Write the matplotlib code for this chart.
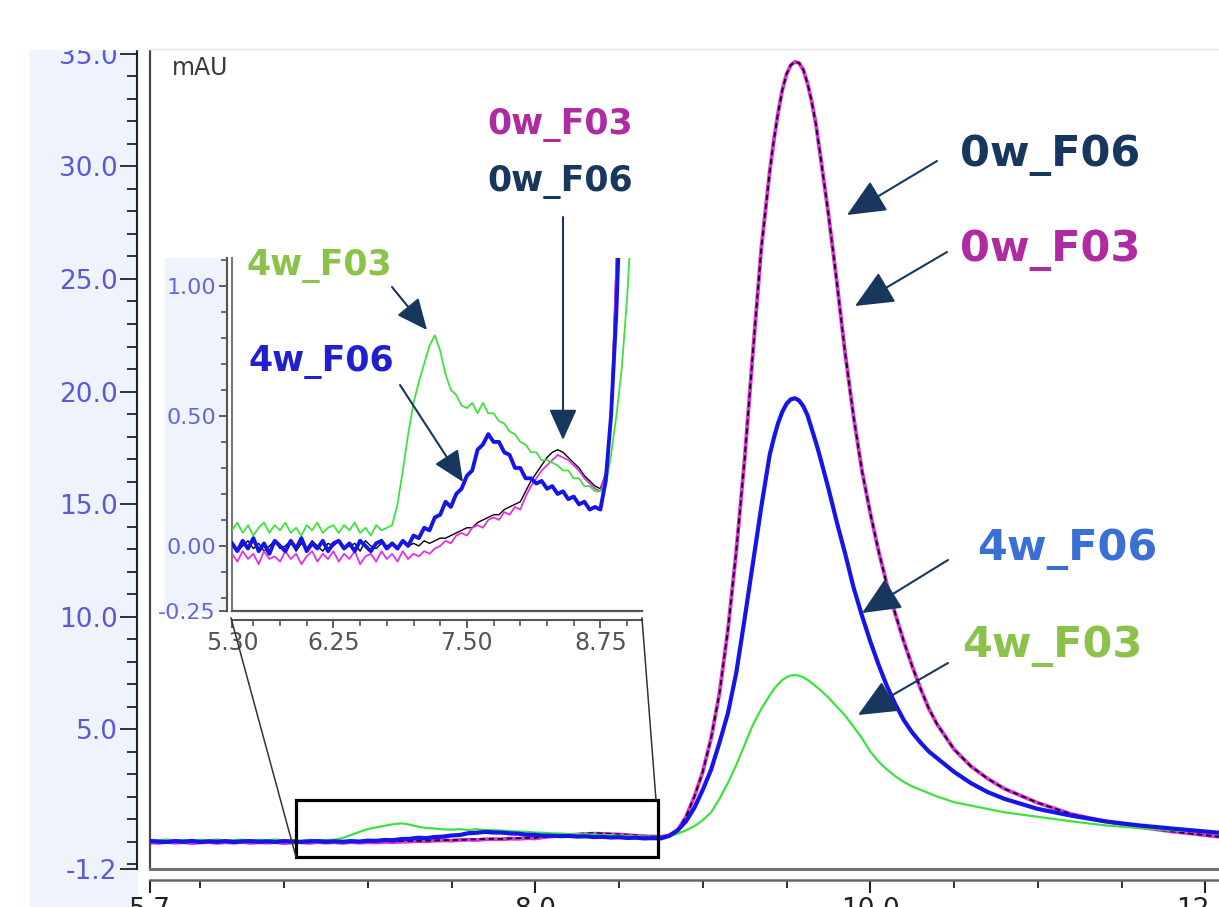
import matplotlib
matplotlib.use("Agg")
import matplotlib.pyplot as plt
from matplotlib.patches import Rectangle, FancyArrowPatch
from matplotlib.lines import Line2D
from matplotlib.ticker import MultipleLocator, FixedLocator

W, H = 1219, 907

# retention time (min), baseline region and main peak region
time_low = [5.30, 5.35, 5.40, 5.45, 5.50, 5.55, 5.60, 5.65, 5.70, 5.75,
            5.80, 5.85, 5.90, 5.95, 6.00, 6.05, 6.10, 6.15, 6.20, 6.25,
            6.30, 6.35, 6.40, 6.45, 6.50, 6.55, 6.60, 6.65, 6.70, 6.75,
            6.80, 6.85, 6.90, 6.95, 7.00, 7.05, 7.10, 7.15, 7.20, 7.25,
            7.30, 7.35, 7.40, 7.45, 7.50, 7.55, 7.60, 7.65, 7.70, 7.75,
            7.80, 7.85, 7.90, 7.95, 8.00, 8.05, 8.10, 8.15, 8.20, 8.25,
            8.30, 8.35, 8.40, 8.45, 8.50, 8.55, 8.60, 8.65, 8.70, 8.75,
            8.80]
time_peak = [8.85, 8.90, 8.95, 9.00, 9.05, 9.10, 9.15, 9.20, 9.25, 9.30,
             9.35, 9.40, 9.425, 9.45, 9.475, 9.50, 9.525, 9.55, 9.575, 9.60,
             9.625, 9.65, 9.675, 9.70, 9.75, 9.80, 9.85, 9.90, 9.95, 10.00,
             10.05, 10.10, 10.15, 10.20, 10.25, 10.30, 10.35, 10.40, 10.50, 10.60,
             10.70, 10.80, 11.00, 11.20, 11.40, 11.60, 11.80, 12.10]

# absorbance, mAU
w0_f03_low = [-0.03, -0.06, -0.02, -0.05, -0.03, -0.07, -0.02, -0.05, -0.04, -0.06,
              -0.02, -0.05, -0.03, -0.07, -0.04, -0.02, -0.06, -0.03, -0.05, -0.02,
              -0.06, -0.03, -0.05, -0.02, -0.07, -0.04, -0.03, -0.06, -0.02, -0.05,
              -0.03, -0.06, -0.02, -0.05, -0.03, -0.04, -0.02, -0.03, -0.01, 0.00,
              0.02, 0.01, 0.04, 0.05, 0.04, 0.07, 0.08, 0.07, 0.10, 0.11,
              0.10, 0.13, 0.12, 0.15, 0.14, 0.19, 0.23, 0.26, 0.29, 0.31,
              0.33, 0.35, 0.34, 0.33, 0.31, 0.29, 0.26, 0.24, 0.22, 0.21,
              0.28]
w0_f06_low = [0.01, -0.02, 0.00, 0.02, -0.01, 0.01, -0.02, 0.00, 0.02, -0.01,
              0.00, 0.02, -0.02, 0.01, -0.01, 0.02, 0.00, -0.02, 0.01, 0.00,
              0.02, -0.01, 0.00, 0.01, -0.02, 0.02, 0.00, -0.01, 0.01, 0.00,
              0.01, -0.01, 0.02, 0.00, 0.01, 0.00, 0.02, 0.01, 0.02, 0.03,
              0.03, 0.04, 0.05, 0.06, 0.07, 0.07, 0.09, 0.10, 0.11, 0.12,
              0.12, 0.14, 0.15, 0.16, 0.17, 0.21, 0.25, 0.28, 0.31, 0.34,
              0.36, 0.37, 0.36, 0.34, 0.32, 0.30, 0.27, 0.25, 0.23, 0.22,
              0.28]
w0_peak = [0.50, 1.10, 2.00, 3.10, 4.60, 6.60, 9.40, 12.90, 17.00, 21.80,
           26.40, 29.80, 31.20, 32.40, 33.40, 34.10, 34.50, 34.65, 34.60, 34.30,
           33.70, 32.90, 31.90, 30.60, 27.90, 24.90, 21.70, 18.90, 16.50, 14.60,
           12.90, 11.40, 10.10, 8.90, 7.80, 6.80, 5.90, 5.20, 4.10, 3.35,
           2.80, 2.35, 1.72, 1.22, 0.90, 0.65, 0.45, 0.20]

w4_f03_low = [0.06, 0.09, 0.05, 0.08, 0.04, 0.07, 0.09, 0.05, 0.08, 0.06,
              0.09, 0.05, 0.07, 0.04, 0.08, 0.06, 0.09, 0.05, 0.07, 0.08,
              0.05, 0.08, 0.06, 0.09, 0.05, 0.07, 0.04, 0.08, 0.06, 0.07,
              0.08, 0.16, 0.29, 0.43, 0.55, 0.63, 0.70, 0.77, 0.81, 0.75,
              0.66, 0.60, 0.58, 0.54, 0.53, 0.55, 0.51, 0.55, 0.51, 0.51,
              0.48, 0.47, 0.44, 0.43, 0.40, 0.39, 0.36, 0.36, 0.33, 0.33,
              0.32, 0.31, 0.29, 0.29, 0.26, 0.26, 0.23, 0.23, 0.21, 0.21,
              0.23]
w4_f03_peak = [0.35, 0.50, 0.68, 0.95, 1.30, 1.90, 2.60, 3.40, 4.30, 5.20,
               5.90, 6.50, 6.78, 7.00, 7.18, 7.30, 7.38, 7.40, 7.37, 7.30,
               7.19, 7.05, 6.90, 6.75, 6.40, 6.00, 5.60, 5.10, 4.60, 4.00,
               3.55, 3.20, 2.90, 2.65, 2.45, 2.30, 2.15, 2.00, 1.75, 1.60,
               1.45, 1.30, 1.10, 0.90, 0.72, 0.60, 0.50, 0.38]

w4_f06_low = [0.01, -0.02, 0.02, -0.01, 0.03, -0.02, 0.01, -0.03, 0.02, 0.00,
              -0.02, 0.02, -0.01, 0.03, -0.02, 0.01, -0.01, 0.02, -0.02, 0.01,
              0.02, -0.01, 0.01, -0.02, 0.02, 0.00, -0.02, 0.01, 0.02, -0.01,
              0.01, -0.01, 0.02, 0.00, 0.04, 0.03, 0.07, 0.06, 0.11, 0.12,
              0.17, 0.15, 0.20, 0.22, 0.27, 0.29, 0.37, 0.39, 0.43, 0.40,
              0.40, 0.36, 0.35, 0.30, 0.30, 0.26, 0.26, 0.24, 0.25, 0.22,
              0.23, 0.20, 0.21, 0.18, 0.19, 0.16, 0.17, 0.14, 0.15, 0.14,
              0.25]
w4_f06_peak = [0.50, 0.90, 1.50, 2.30, 3.20, 4.40, 5.70, 7.50, 9.90, 12.40,
               14.90, 17.20, 17.95, 18.60, 19.10, 19.45, 19.65, 19.70, 19.60, 19.35,
               18.95, 18.35, 17.75, 17.10, 15.70, 14.20, 12.80, 11.30, 10.05, 8.90,
               7.85, 6.90, 6.10, 5.40, 4.85, 4.40, 4.00, 3.70, 3.10, 2.60,
               2.20, 1.90, 1.45, 1.15, 0.90, 0.72, 0.58, 0.38]

rt = time_low + time_peak
w0_f03 = w0_f03_low + w0_peak
w0_f06 = w0_f06_low + w0_peak
w4_f03 = w4_f03_low + w4_f03_peak
w4_f06 = w4_f06_low + w4_f06_peak

# zoomed window drawn on the main trace (min, mAU)
box_t = (6.57, 8.73)
box_y = (-0.70, 1.85)

MAG = "#e033e0"
BLUE = "#1515e8"
GREEN = "#3ee23e"
NAVY = "#17375e"
TXT_MAG = "#b02aa0"
TXT_GREEN = "#8bc34a"
TICK_BLUE = "#5a5ad8"
NARROW = ["Liberation Sans Narrow", "DejaVu Sans"]
BOLD = ["DejaVu Sans"]


def fx(x):
    return x / W


def fy(y):
    return 1 - y / H


fig = plt.figure(figsize=(W / 100, H / 100), dpi=100, facecolor="white")

# light blue strip behind the y scale
fig.patches.append(Rectangle((fx(30), fy(907)), fx(107), 860 / H,
                             transform=fig.transFigure, color="#eef3fc", zorder=-1))

# ---- main chromatogram ----
ax = fig.add_axes([fx(150), fy(869), 1069 / W, 822 / H])
ax.plot(rt, w0_f03, color=MAG, lw=2.8, zorder=2)
ax.plot(rt, w0_f06, color="black", lw=1.3, ls=(0, (3, 2)), zorder=3)
ax.plot(rt, w4_f03, color=GREEN, lw=1.6, zorder=3.5)
ax.plot(rt, w4_f06, color=BLUE, lw=3.0, zorder=4)
ax.add_patch(Rectangle((box_t[0], box_y[0]), box_t[1] - box_t[0], box_y[1] - box_y[0],
                       fill=False, ec="black", lw=2.3, zorder=6))

ax.set_xlim(5.7, 12.082)
ax.set_ylim(-1.22, 35.31)
ax.spines["right"].set_visible(False)
ax.spines["top"].set_visible(False)
ax.spines["left"].set_position(("outward", 9.4))
ax.spines["bottom"].set_position(("outward", 8))
ax.spines["left"].set_color("#222222")
ax.spines["bottom"].set_color("#666666")
ax.spines["left"].set_linewidth(1.5)
ax.spines["bottom"].set_linewidth(1.8)
ax.add_line(Line2D([0, 0], [0, 1], transform=ax.transAxes, color="#4a4a4a",
                   lw=1.6, clip_on=False))
ax.add_line(Line2D([0, 1], [0, 0], transform=ax.transAxes, color="#707070",
                   lw=2.2, clip_on=False))

ax.yaxis.set_major_locator(FixedLocator([-1.2, 5, 10, 15, 20, 25, 30, 35]))
ax.yaxis.set_minor_locator(MultipleLocator(1.0))
ax.set_yticklabels(["-1.2", "5.0", "10.0", "15.0", "20.0", "25.0", "30.0", "35.0"])
ax.xaxis.set_major_locator(FixedLocator([5.7, 8.0, 10.0, 12.0]))
ax.xaxis.set_minor_locator(MultipleLocator(0.5))
ax.set_xticklabels(["5.7", "8.0", "10.0", "12.0"])
ax.tick_params(axis="y", which="major", length=12, width=1.3, color="#222222",
               labelsize=19, labelcolor=TICK_BLUE, pad=2)
ax.tick_params(axis="y", which="minor", length=7, width=1.3, color="#222222")
ax.tick_params(axis="x", which="major", length=9, width=1.5, color="#222222",
               labelsize=19, labelcolor="#222222", pad=3)
ax.tick_params(axis="x", which="minor", length=6, width=1.3, color="#222222")

fig.text(fx(172), fy(68), "mAU", fontsize=17, color="#3a3a3a", va="center", ha="left")

# ---- inset ----
fig.patches.append(Rectangle((fx(165), fy(612)), fx(62), 354 / H,
                             transform=fig.transFigure, color="#eef3fc", zorder=1.5))
axi = fig.add_axes([fx(232), fy(611), 410 / W, 353 / H], zorder=2)
axi.plot(rt, w0_f06, color="black", lw=1.0, zorder=2)
axi.plot(rt, w0_f03, color=MAG, lw=1.3, zorder=3)
axi.plot(rt, w4_f03, color=GREEN, lw=1.3, zorder=4)
axi.plot(rt, w4_f06, color=BLUE, lw=2.8, zorder=5)
axi.set_xlim(5.30, 9.14)
axi.set_ylim(-0.25, 1.107)
axi.spines["right"].set_visible(False)
axi.spines["top"].set_visible(False)
axi.spines["left"].set_position(("outward", 3.6))
axi.spines["bottom"].set_position(("outward", 6.5))
for s in ("left", "bottom"):
    axi.spines[s].set_color("#555555")
    axi.spines[s].set_linewidth(1.5)
axi.add_line(Line2D([0, 0], [0, 1], transform=axi.transAxes, color="#777777",
                    lw=1.5, clip_on=False))
axi.add_line(Line2D([0, 1], [0, 0], transform=axi.transAxes, color="#555555",
                    lw=1.6, clip_on=False))
axi.xaxis.set_major_locator(FixedLocator([5.30, 6.25, 7.50, 8.75]))
axi.xaxis.set_minor_locator(MultipleLocator(0.25))
axi.set_xticklabels(["5.30", "6.25", "7.50", "8.75"])
axi.yaxis.set_major_locator(FixedLocator([-0.25, 0.0, 0.5, 1.0]))
axi.yaxis.set_minor_locator(MultipleLocator(0.1))
axi.set_yticklabels(["-0.25", "0.00", "0.50", "1.00"])
axi.tick_params(axis="y", which="major", length=6, width=1.2, color="#444444",
                labelsize=16, labelcolor="#6666dd", pad=2)
axi.tick_params(axis="y", which="minor", length=4, width=1.1, color="#444444")
axi.tick_params(axis="x", which="major", length=6, width=1.2, color="#444444",
                labelsize=17, labelcolor="#555555", pad=2)
axi.tick_params(axis="x", which="minor", length=4, width=1.1, color="#444444")
for lbl in axi.get_xticklabels() + axi.get_yticklabels():
    lbl.set_family(NARROW)

# connector lines from inset to the zoom box
for (x0, y0), (x1, y1) in [((231, 618), (296, 857)), ((642, 618), (656, 800))]:
    fig.add_artist(Line2D([fx(x0), fx(x1)], [fy(y0), fy(y1)], transform=fig.transFigure,
                          color="#333333", lw=1.1, zorder=5))


# ---- labels and arrows ----
def arrow(x0, y0, x1, y1, scale):
    fig.add_artist(FancyArrowPatch((fx(x0), fy(y0)), (fx(x1), fy(y1)),
                                   transform=fig.transFigure,
                                   arrowstyle="-|>,head_length=0.8,head_width=0.36",
                                   mutation_scale=scale, color=NAVY, lw=1.5,
                                   shrinkA=0, shrinkB=0, zorder=10))


def label(x, y, s, color, size):
    fig.text(fx(x), fy(y), s, color=color, fontsize=size, fontweight="bold",
             family=BOLD, ha="left", va="center", zorder=10)


label(960, 155, "0w_F06", NAVY, 31)
label(960, 250, "0w_F03", TXT_MAG, 31)
label(977, 549, "4w_F06", "#3a6fd3", 31)
label(962, 646, "4w_F03", TXT_GREEN, 31)
arrow(937, 161, 847, 215, 30)
arrow(947, 252, 855, 306, 30)
arrow(948, 560, 862, 613, 30)
arrow(948, 663, 858, 715, 30)

label(487, 125, "0w_F03", TXT_MAG, 25)
label(487, 182, "0w_F06", NAVY, 25)
label(247, 266, "4w_F03", TXT_GREEN, 25)
label(249, 362, "4w_F06", "#2020d0", 25)
arrow(563, 217, 563, 440, 24)
arrow(392, 287, 427, 330, 24)
arrow(400, 385, 463, 482, 24)

# screenshot edge above the chart
fig.patches.append(Rectangle((0, fy(49)), 1, 49 / H, transform=fig.transFigure,
                             color="white", zorder=20))
fig.add_artist(Line2D([fx(150), 1], [fy(49), fy(49)], transform=fig.transFigure,
                      color="#e2e2e2", lw=1, zorder=21))

fig.savefig("out.png", dpi=100, facecolor="white")
